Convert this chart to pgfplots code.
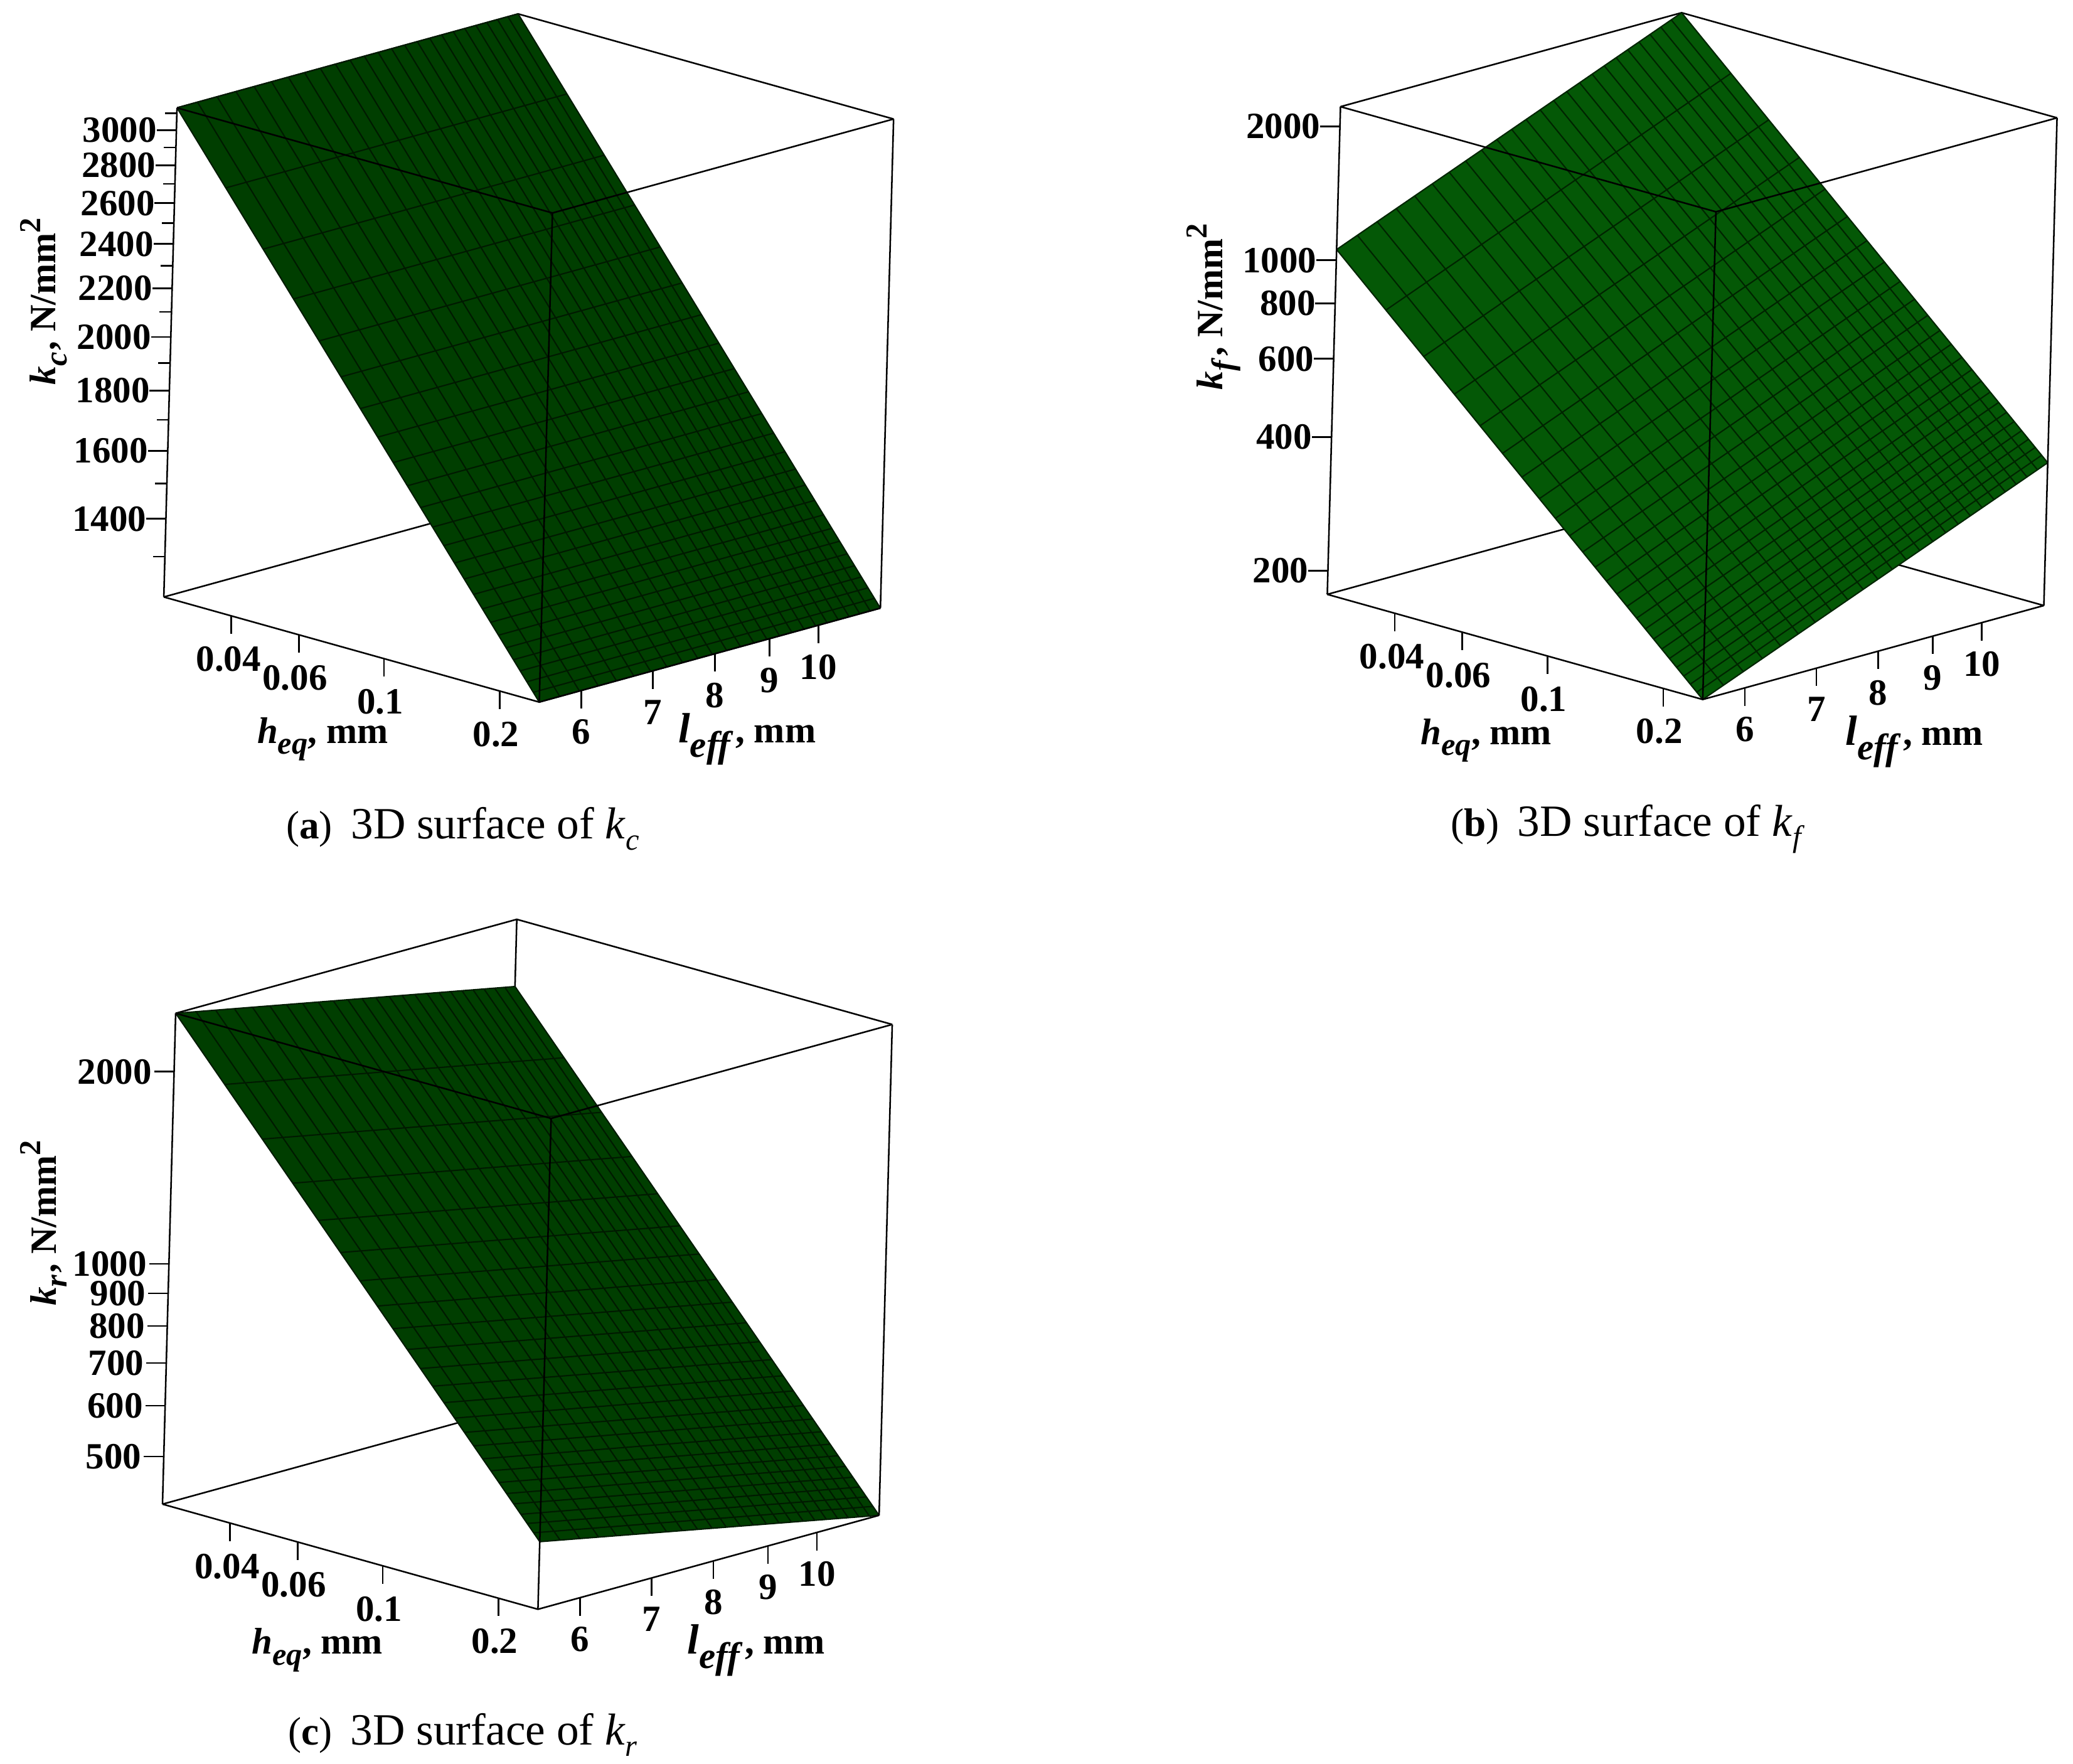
\documentclass[border=0pt]{standalone}
\usepackage{fontspec}
\setmainfont{Liberation Serif}
\usepackage{pgfplots}
\pgfplotsset{compat=1.18}
\definecolor{surfA}{RGB}{0,62,0}
\definecolor{meshA}{RGB}{0,26,0}
\definecolor{surfB}{RGB}{4,88,6}
\definecolor{meshB}{RGB}{0,36,0}
\pgfdeclareplotmark{tickdown}{\pgfsetlinewidth{0.12pt}\pgfpathmoveto{\pgfpoint{0pt}{0pt}}\pgfpathlineto{\pgfpoint{0pt}{-1.36pt}}\pgfusepathqstroke}
\pgfdeclareplotmark{tickleft}{\pgfsetlinewidth{0.12pt}\pgfpathmoveto{\pgfpoint{0pt}{0pt}}\pgfpathlineto{\pgfpoint{-1.5pt}{0pt}}\pgfusepathqstroke}
\pgfdeclareplotmark{tickminor}{\pgfsetlinewidth{0.12pt}\pgfpathmoveto{\pgfpoint{0pt}{0pt}}\pgfpathlineto{\pgfpoint{-0.9pt}{0pt}}\pgfusepathqstroke}
\newcommand{\tfont}{\bfseries\fontsize{2.8}{2.9}\selectfont}
\newcommand{\capfont}{\fontsize{3.38}{3.6}\selectfont}
\newcommand{\txt}[4][]{\node[inner sep=0pt,#1] at ({#2*0.1pt},{(1334-#3)*0.1pt}) {#4};}
\newcommand{\lsub}[1]{\raisebox{-0.3em}{\fontsize{2.4}{2.4}\selectfont\textit{#1}}}
\newcommand{\hlab}{\textit{h}\lsub{eq}, mm}
\newcommand{\llab}{{\fontsize{3.2}{3.2}\selectfont\textit{l}}\raisebox{-0.4em}{\textit{eff}}\hspace{0.15pt}, mm}
\newcommand{\klab}[1]{\textit{k}\lsub{#1}\hspace{0.15pt}, N/mm\raisebox{0.42em}{\fontsize{2.3}{2.3}\selectfont 2}}
\newcommand{\caplab}[2]{{\fontsize{3.0}{3.2}\selectfont(\textbf{#1})}\hspace{1.4pt}3D surface of \textit{k}\raisebox{-0.25em}{\fontsize{2.3}{2.3}\selectfont\textit{#2}}}
\pgfplotsset{
  box3d/.style={
    x coord trafo/.code={\pgfmathparse{log10(##1)}},
    y coord trafo/.code={\pgfmathparse{log10(##1)}},
    z coord trafo/.code={\pgfmathparse{log10(##1)}},
    xmin=0.0267, xmax=0.2535, ymin=5.48, ymax=11.432,
    clip=false,
    axis line style={draw=none},
    tick style={draw=none},
    major tick length=0pt,
    minor tick num=0,
    xtick={0.04,0.06,0.1,0.2}, xticklabels={0.04,0.06,0.1,0.2},
    ytick={6,7,8,9,10}, yticklabels={6,7,8,9,10},
    tick label style={font=\tfont, inner sep=0pt},
    xticklabel style={anchor=north, yshift=-2.1pt, xshift=-0.3pt},
    yticklabel style={anchor=north, yshift=-2pt},
    zticklabel style={anchor=east, xshift=-1.3pt},
    x={(29.05pt,-8.13pt)}, y={(80.8pt,22.24pt)},
  },
  edge/.style={black, line width=0.12pt, mark=none, forget plot},
  meshlines/.style={line width=0.1pt, mark=none, empty line=jump, forget plot},
}
\begin{document}
\begin{tikzpicture}
\useasboundingbox (0,0) rectangle (156.8pt,133.4pt);
%------------------------------ (a)
\begin{axis}[box3d, at={(12.4pt,80.3pt)}, anchor=south west,
  z={(2.4pt,88.8pt)},
  zmin=1201, zmax=3134,
  ztick={1400,1600,1800,2000,2200,2400,2600,2800,3000},
  zticklabels={1400,1600,1800,2000,2200,2400,2600,2800,3000}]
\addplot3[edge] coordinates {(0.0267,11.432,1201)(0.0267,11.432,3134)};
\addplot3[edge] coordinates {(0.0267,5.48,1201)(0.0267,11.432,1201)(0.2535,11.432,1201)};
\addplot3[edge] coordinates {(0.0267,5.48,3134)(0.0267,11.432,3134)(0.2535,11.432,3134)};
\addplot3[draw=none, fill=surfA, forget plot] coordinates {(0.0267,5.48,3134)(0.0267,11.432,3134)(0.2535,11.432,1201)(0.2535,5.48,1201)(0.0267,5.48,3134)};
\addplot3[meshlines, color=meshA] coordinates {
(0.0267,5.48,3134)(0.0267,11.432,3134)

(0.03615,5.48,2754)(0.03615,11.432,2754)

(0.0456,5.48,2495)(0.0456,11.432,2495)

(0.05505,5.48,2302)(0.05505,11.432,2302)

(0.0645,5.48,2151)(0.0645,11.432,2151)

(0.07395,5.48,2030)(0.07395,11.432,2030)

(0.0834,5.48,1929)(0.0834,11.432,1929)

(0.09285,5.48,1842)(0.09285,11.432,1842)

(0.1023,5.48,1768)(0.1023,11.432,1768)

(0.11175,5.48,1703)(0.11175,11.432,1703)

(0.1212,5.48,1644)(0.1212,11.432,1644)

(0.13065,5.48,1593)(0.13065,11.432,1593)

(0.1401,5.48,1546)(0.1401,11.432,1546)

(0.14955,5.48,1503)(0.14955,11.432,1503)

(0.159,5.48,1465)(0.159,11.432,1465)

(0.16845,5.48,1429)(0.16845,11.432,1429)

(0.1779,5.48,1396)(0.1779,11.432,1396)

(0.18735,5.48,1366)(0.18735,11.432,1366)

(0.1968,5.48,1338)(0.1968,11.432,1338)

(0.20625,5.48,1311)(0.20625,11.432,1311)

(0.2157,5.48,1286)(0.2157,11.432,1286)

(0.22515,5.48,1263)(0.22515,11.432,1263)

(0.2346,5.48,1241)(0.2346,11.432,1241)

(0.24405,5.48,1220)(0.24405,11.432,1220)

(0.2535,5.48,1201)(0.2535,11.432,1201)

(0.0267,5.48,3134)(0.2535,5.48,1201)

(0.0267,5.728,3134)(0.2535,5.728,1201)

(0.0267,5.976,3134)(0.2535,5.976,1201)

(0.0267,6.224,3134)(0.2535,6.224,1201)

(0.0267,6.472,3134)(0.2535,6.472,1201)

(0.0267,6.72,3134)(0.2535,6.72,1201)

(0.0267,6.968,3134)(0.2535,6.968,1201)

(0.0267,7.216,3134)(0.2535,7.216,1201)

(0.0267,7.464,3134)(0.2535,7.464,1201)

(0.0267,7.712,3134)(0.2535,7.712,1201)

(0.0267,7.96,3134)(0.2535,7.96,1201)

(0.0267,8.208,3134)(0.2535,8.208,1201)

(0.0267,8.456,3134)(0.2535,8.456,1201)

(0.0267,8.704,3134)(0.2535,8.704,1201)

(0.0267,8.952,3134)(0.2535,8.952,1201)

(0.0267,9.2,3134)(0.2535,9.2,1201)

(0.0267,9.448,3134)(0.2535,9.448,1201)

(0.0267,9.696,3134)(0.2535,9.696,1201)

(0.0267,9.944,3134)(0.2535,9.944,1201)

(0.0267,10.192,3134)(0.2535,10.192,1201)

(0.0267,10.44,3134)(0.2535,10.44,1201)

(0.0267,10.688,3134)(0.2535,10.688,1201)

(0.0267,10.936,3134)(0.2535,10.936,1201)

(0.0267,11.184,3134)(0.2535,11.184,1201)

(0.0267,11.432,3134)(0.2535,11.432,1201)
};
\addplot3[edge] coordinates {(0.0267,5.48,1201)(0.0267,5.48,3134)};
\addplot3[edge] coordinates {(0.2535,5.48,1201)(0.2535,5.48,3134)};
\addplot3[edge] coordinates {(0.2535,11.432,1201)(0.2535,11.432,3134)};
\addplot3[edge] coordinates {(0.0267,5.48,1201)(0.2535,5.48,1201)(0.2535,11.432,1201)};
\addplot3[edge] coordinates {(0.0267,5.48,3134)(0.2535,5.48,3134)(0.2535,11.432,3134)};
\addplot3[only marks, mark=tickdown, black, forget plot] coordinates {(0.04,5.48,1201)(0.06,5.48,1201)(0.1,5.48,1201)(0.2,5.48,1201)(0.2535,6,1201)(0.2535,7,1201)(0.2535,8,1201)(0.2535,9,1201)(0.2535,10,1201)};
\addplot3[only marks, mark=tickleft, black, forget plot] coordinates {(0.0267,5.48,1400)(0.0267,5.48,1600)(0.0267,5.48,1800)(0.0267,5.48,2000)(0.0267,5.48,2200)(0.0267,5.48,2400)(0.0267,5.48,2600)(0.0267,5.48,2800)(0.0267,5.48,3000)};
\addplot3[only marks, mark=tickminor, black, forget plot] coordinates {(0.0267,5.48,1300)(0.0267,5.48,1500)(0.0267,5.48,1700)(0.0267,5.48,1900)(0.0267,5.48,2100)(0.0267,5.48,2300)(0.0267,5.48,2500)(0.0267,5.48,2700)(0.0267,5.48,2900)(0.0267,5.48,3100)};
\end{axis}
\txt[rotate=90,font=\tfont]{33}{228}{\klab{c}}
\txt[font=\tfont]{244}{559}{\hlab}
\txt[font=\tfont]{565}{559}{\llab}
\txt[font=\capfont]{350}{627}{\caplab{a}{c}}
%------------------------------ (b)
\begin{axis}[box3d, at={(100.4pt,80.5pt)}, anchor=south west,
  z={(0.91pt,33.6pt)},
  zmin=177, zmax=2216,
  ztick={200,400,600,800,1000,2000},
  zticklabels={200,400,600,800,1000,2000}]
\addplot3[edge] coordinates {(0.0267,11.432,177)(0.0267,11.432,2216)};
\addplot3[edge] coordinates {(0.0267,5.48,177)(0.0267,11.432,177)(0.2535,11.432,177)};
\addplot3[edge] coordinates {(0.0267,5.48,2216)(0.0267,11.432,2216)(0.2535,11.432,2216)};
\addplot3[draw=none, fill=surfB, forget plot] coordinates {(0.0267,5.48,1057)(0.0267,11.432,2216)(0.2535,11.432,371)(0.2535,5.48,177)(0.0267,5.48,1057)};
\addplot3[meshlines, color=meshB] coordinates {
(0.0267,5.48,1057)(0.0267,11.432,2216)

(0.03615,5.48,831)(0.03615,11.432,1742)

(0.0456,5.48,691)(0.0456,11.432,1448)

(0.05505,5.48,595)(0.05505,11.432,1247)

(0.0645,5.48,525)(0.0645,11.432,1100)

(0.07395,5.48,470)(0.07395,11.432,986)

(0.0834,5.48,428)(0.0834,11.432,896)

(0.09285,5.48,393)(0.09285,11.432,823)

(0.1023,5.48,363)(0.1023,11.432,762)

(0.11175,5.48,339)(0.11175,11.432,710)

(0.1212,5.48,318)(0.1212,11.432,666)

(0.13065,5.48,299)(0.13065,11.432,627)

(0.1401,5.48,283)(0.1401,11.432,594)

(0.14955,5.48,269)(0.14955,11.432,564)

(0.159,5.48,256)(0.159,11.432,537)

(0.16845,5.48,244)(0.16845,11.432,513)

(0.1779,5.48,234)(0.1779,11.432,491)

(0.18735,5.48,225)(0.18735,11.432,471)

(0.1968,5.48,216)(0.1968,11.432,453)

(0.20625,5.48,208)(0.20625,11.432,437)

(0.2157,5.48,201)(0.2157,11.432,421)

(0.22515,5.48,194)(0.22515,11.432,407)

(0.2346,5.48,188)(0.2346,11.432,394)

(0.24405,5.48,182)(0.24405,11.432,382)

(0.2535,5.48,177)(0.2535,11.432,371)

(0.0267,5.48,1057)(0.2535,5.48,177)

(0.0267,5.728,1105)(0.2535,5.728,185)

(0.0267,5.976,1153)(0.2535,5.976,193)

(0.0267,6.224,1201)(0.2535,6.224,201)

(0.0267,6.472,1250)(0.2535,6.472,209)

(0.0267,6.72,1298)(0.2535,6.72,217)

(0.0267,6.968,1346)(0.2535,6.968,225)

(0.0267,7.216,1394)(0.2535,7.216,233)

(0.0267,7.464,1443)(0.2535,7.464,242)

(0.0267,7.712,1491)(0.2535,7.712,250)

(0.0267,7.96,1539)(0.2535,7.96,258)

(0.0267,8.208,1587)(0.2535,8.208,266)

(0.0267,8.456,1636)(0.2535,8.456,274)

(0.0267,8.704,1684)(0.2535,8.704,282)

(0.0267,8.952,1732)(0.2535,8.952,290)

(0.0267,9.2,1780)(0.2535,9.2,298)

(0.0267,9.448,1829)(0.2535,9.448,306)

(0.0267,9.696,1877)(0.2535,9.696,314)

(0.0267,9.944,1926)(0.2535,9.944,322)

(0.0267,10.192,1974)(0.2535,10.192,331)

(0.0267,10.44,2022)(0.2535,10.44,339)

(0.0267,10.688,2071)(0.2535,10.688,347)

(0.0267,10.936,2119)(0.2535,10.936,355)

(0.0267,11.184,2167)(0.2535,11.184,363)

(0.0267,11.432,2216)(0.2535,11.432,371)
};
\addplot3[edge] coordinates {(0.0267,5.48,177)(0.0267,5.48,2216)};
\addplot3[edge] coordinates {(0.2535,5.48,177)(0.2535,5.48,2216)};
\addplot3[edge] coordinates {(0.2535,11.432,177)(0.2535,11.432,2216)};
\addplot3[edge] coordinates {(0.0267,5.48,177)(0.2535,5.48,177)(0.2535,11.432,177)};
\addplot3[edge] coordinates {(0.0267,5.48,2216)(0.2535,5.48,2216)(0.2535,11.432,2216)};
\addplot3[only marks, mark=tickdown, black, forget plot] coordinates {(0.04,5.48,177)(0.06,5.48,177)(0.1,5.48,177)(0.2,5.48,177)(0.2535,6,177)(0.2535,7,177)(0.2535,8,177)(0.2535,9,177)(0.2535,10,177)};
\addplot3[only marks, mark=tickleft, black, forget plot] coordinates {(0.0267,5.48,200)(0.0267,5.48,400)(0.0267,5.48,600)(0.0267,5.48,800)(0.0267,5.48,1000)(0.0267,5.48,2000)};
\end{axis}
\txt[rotate=90,font=\tfont]{918}{232}{\klab{f}}
\txt[font=\tfont]{1124}{560}{\hlab}
\txt[font=\tfont]{1448}{561}{\llab}
\txt[font=\capfont]{1231}{627}{\caplab{b}{f}}
%------------------------------ (c)
\begin{axis}[box3d, at={(12.3pt,11.7pt)}, anchor=south west,
  z={(1.3pt,48.34pt)},
  zmin=421, zmax=2467,
  zticklabel style={xshift=-0.2pt},
  ztick={500,600,700,800,900,1000,2000},
  zticklabels={500,600,700,800,900,1000,2000}]
\addplot3[edge] coordinates {(0.0267,11.432,421)(0.0267,11.432,2467)};
\addplot3[edge] coordinates {(0.0267,5.48,421)(0.0267,11.432,421)(0.2535,11.432,421)};
\addplot3[edge] coordinates {(0.0267,5.48,2467)(0.0267,11.432,2467)(0.2535,11.432,2467)};
\addplot3[draw=none, fill=surfA, forget plot] coordinates {(0.0267,5.48,2467)(0.0267,11.432,1937)(0.2535,11.432,421)(0.2535,5.48,537)(0.0267,5.48,2467)};
\addplot3[meshlines, color=meshA] coordinates {
(0.0267,5.48,2467)(0.0267,11.432,1937)

(0.03615,5.48,2009)(0.03615,11.432,1577)

(0.0456,5.48,1716)(0.0456,11.432,1347)

(0.05505,5.48,1511)(0.05505,11.432,1186)

(0.0645,5.48,1357)(0.0645,11.432,1065)

(0.07395,5.48,1237)(0.07395,11.432,971)

(0.0834,5.48,1140)(0.0834,11.432,895)

(0.09285,5.48,1060)(0.09285,11.432,832)

(0.1023,5.48,993)(0.1023,11.432,779)

(0.11175,5.48,935)(0.11175,11.432,734)

(0.1212,5.48,885)(0.1212,11.432,695)

(0.13065,5.48,841)(0.13065,11.432,660)

(0.1401,5.48,802)(0.1401,11.432,630)

(0.14955,5.48,767)(0.14955,11.432,603)

(0.159,5.48,736)(0.159,11.432,578)

(0.16845,5.48,708)(0.16845,11.432,556)

(0.1779,5.48,682)(0.1779,11.432,536)

(0.18735,5.48,659)(0.18735,11.432,517)

(0.1968,5.48,637)(0.1968,11.432,500)

(0.20625,5.48,617)(0.20625,11.432,485)

(0.2157,5.48,599)(0.2157,11.432,470)

(0.22515,5.48,581)(0.22515,11.432,457)

(0.2346,5.48,566)(0.2346,11.432,444)

(0.24405,5.48,551)(0.24405,11.432,432)

(0.2535,5.48,537)(0.2535,11.432,421)

(0.0267,5.48,2467)(0.2535,5.48,537)

(0.0267,5.728,2431)(0.2535,5.728,529)

(0.0267,5.976,2398)(0.2535,5.976,522)

(0.0267,6.224,2366)(0.2535,6.224,515)

(0.0267,6.472,2336)(0.2535,6.472,508)

(0.0267,6.72,2307)(0.2535,6.72,502)

(0.0267,6.968,2280)(0.2535,6.968,496)

(0.0267,7.216,2253)(0.2535,7.216,490)

(0.0267,7.464,2229)(0.2535,7.464,485)

(0.0267,7.712,2205)(0.2535,7.712,480)

(0.0267,7.96,2182)(0.2535,7.96,475)

(0.0267,8.208,2160)(0.2535,8.208,470)

(0.0267,8.456,2139)(0.2535,8.456,466)

(0.0267,8.704,2119)(0.2535,8.704,461)

(0.0267,8.952,2099)(0.2535,8.952,457)

(0.0267,9.2,2081)(0.2535,9.2,453)

(0.0267,9.448,2062)(0.2535,9.448,449)

(0.0267,9.696,2045)(0.2535,9.696,445)

(0.0267,9.944,2028)(0.2535,9.944,441)

(0.0267,10.192,2011)(0.2535,10.192,438)

(0.0267,10.44,1996)(0.2535,10.44,435)

(0.0267,10.688,1981)(0.2535,10.688,431)

(0.0267,10.936,1966)(0.2535,10.936,428)

(0.0267,11.184,1951)(0.2535,11.184,425)

(0.0267,11.432,1937)(0.2535,11.432,421)
};
\addplot3[edge] coordinates {(0.0267,5.48,421)(0.0267,5.48,2467)};
\addplot3[edge] coordinates {(0.2535,5.48,421)(0.2535,5.48,2467)};
\addplot3[edge] coordinates {(0.2535,11.432,421)(0.2535,11.432,2467)};
\addplot3[edge] coordinates {(0.0267,5.48,421)(0.2535,5.48,421)(0.2535,11.432,421)};
\addplot3[edge] coordinates {(0.0267,5.48,2467)(0.2535,5.48,2467)(0.2535,11.432,2467)};
\addplot3[only marks, mark=tickdown, black, forget plot] coordinates {(0.04,5.48,421)(0.06,5.48,421)(0.1,5.48,421)(0.2,5.48,421)(0.2535,6,421)(0.2535,7,421)(0.2535,8,421)(0.2535,9,421)(0.2535,10,421)};
\addplot3[only marks, mark=tickleft, black, forget plot] coordinates {(0.0267,5.48,500)(0.0267,5.48,600)(0.0267,5.48,700)(0.0267,5.48,800)(0.0267,5.48,900)(0.0267,5.48,1000)(0.0267,5.48,2000)};
\end{axis}
\txt[rotate=90,font=\tfont]{33}{925}{\klab{r}}
\txt[font=\tfont]{240}{1248}{\hlab}
\txt[font=\tfont]{572}{1248}{\llab}
\txt[font=\capfont]{350}{1312}{\caplab{c}{r}}
\end{tikzpicture}
\end{document}
